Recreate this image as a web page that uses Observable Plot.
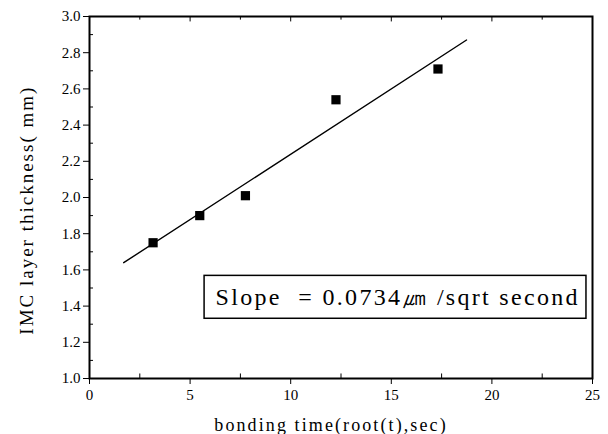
<!DOCTYPE html>
<html><head><meta charset="utf-8">
<script src="https://cdn.jsdelivr.net/npm/d3@7"></script>
<script src="https://cdn.jsdelivr.net/npm/@observablehq/plot@0.6"></script>
<style>body{margin:0;background:#fff}svg{display:block}</style>
</head><body><div id="chart"></div>
<script>
// data
const rootTime = [3.16, 5.48, 7.75, 12.25, 17.32];
const thickness = [1.75, 1.90, 2.01, 2.54, 2.71];
// fitted line end points
const fitX = [1.70, 18.74];
const fitY = [1.64, 2.87];
// ticks
const xTicks = [0, 5, 10, 15, 20, 25];
const xMinor = [2.5, 7.5, 12.5, 17.5, 22.5];
const yTicks = [1.0, 1.2, 1.4, 1.6, 1.8, 2.0, 2.2, 2.4, 2.6, 2.8, 3.0];
const yMinor = [1.1, 1.3, 1.5, 1.7, 1.9, 2.1, 2.3, 2.5, 2.7, 2.9];
const xLabel = "bonding time(root(t),sec)";
const yLabel = "IMC layer thickness( mm)";
const noteText = "Slope  = 0.0734㎛ /sqrt second";
const noteBox = [{x1: 5.72, x2: 24.7, y1: 1.33, y2: 1.567}];

const pts = rootTime.map((x, i) => ({x, y: thickness[i]}));
const fit = fitX.map((x, i) => ({x, y: fitY[i]}));

const chart = Plot.plot({
  width: 608,
  height: 434,
  marginLeft: 89,
  marginRight: 16,
  marginTop: 16,
  marginBottom: 56,
  style: {fontFamily: "'Liberation Serif', serif", fontSize: "15px", color: "#000", background: "#fff"},
  x: {domain: [0, 25]},
  y: {domain: [1, 3]},
  marks: [
    Plot.axisX(xTicks, {anchor: "bottom", tickSize: 6, tickPadding: 5, fontSize: 15, label: null, tickFormat: d => String(d)}),
    Plot.ruleX(xMinor, {x: d => d, y1: 1, y2: 1.025, stroke: "#000"}),
    Plot.ruleX(xTicks, {x: d => d, y1: 3, y2: 2.97, stroke: "#000"}),
    Plot.ruleX(xMinor, {x: d => d, y1: 3, y2: 2.98, stroke: "#000"}),
    Plot.axisY(yTicks, {anchor: "left", tickSize: 6, tickPadding: 3, fontSize: 15, label: null, tickFormat: d => d.toFixed(1)}),
    Plot.ruleY(yMinor, {y: d => d, x1: 0, x2: 0.2, stroke: "#000"}),
    Plot.frame({stroke: "#000", strokeWidth: 2}),
    Plot.line(fit, {x: "x", y: "y", stroke: "#000", strokeWidth: 1.4}),
    Plot.dot(pts, {x: "x", y: "y", symbol: "square", r: 5.2, fill: "#000", stroke: null}),
    Plot.rect(noteBox, {x1: "x1", x2: "x2", y1: "y1", y2: "y2", fill: "#fff", stroke: "#000", strokeWidth: 1.5}),
    Plot.text([noteText], {x: noteBox[0].x1, y: (noteBox[0].y1 + noteBox[0].y2) / 2, text: d => d, textAnchor: "start", dx: 11, fontSize: 24, fill: "#000"}),
    Plot.text([xLabel], {frameAnchor: "bottom", lineAnchor: "middle", dy: 47, dx: -10, fontSize: 18, fill: "#000"}),
    Plot.text([yLabel], {x: () => -3.13, y: () => 1.93, text: d => d, lineAnchor: "middle", rotate: -90, fontSize: 19, fill: "#000"})
  ]
});
const spacing = {[noteText]: "2.3px", [xLabel]: "2.1px", [yLabel]: "2px"};
chart.querySelectorAll("text").forEach(t => {
  const s = spacing[t.textContent];
  if (s) t.style.letterSpacing = s;
});
document.getElementById("chart").appendChild(chart);
</script>
</body></html>
